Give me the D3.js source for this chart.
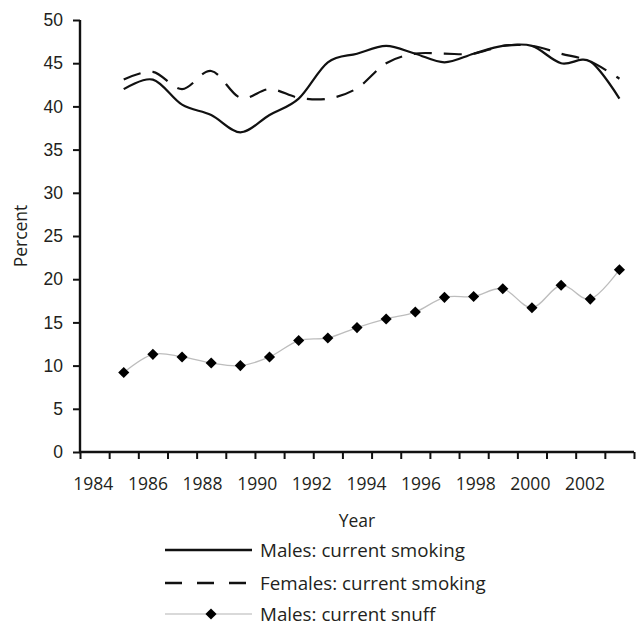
<!DOCTYPE html>
<html>
<head>
<meta charset="utf-8">
<script src="https://cdn.jsdelivr.net/npm/d3@7"></script>
<style>
  body { margin: 0; background: #fff; }
  svg { display: block; font-family: 'Open Sans', sans-serif; }
  .axis text { font-size: 17.5px; fill: #231f20; }
</style>
</head>
<body>
<div id="chart"></div>
<script>
// Survey slots on the category axis (slot 0 is empty)
const slots = d3.range(19);
const pointSlots = [1, 2, 3, 4, 5, 6, 7, 8, 9, 10, 11, 12, 13, 14, 15, 16, 17, 18];

// Percent values
const malesSmoking   = [42.0, 43.1, 40.2, 39.0, 37.0, 39.0, 40.9, 45.1, 46.1, 47.0, 46.1, 45.1, 46.1, 47.0, 47.0, 45.0, 45.2, 40.9];
const femalesSmoking = [43.1, 44.0, 42.0, 44.1, 41.0, 42.0, 41.0, 40.9, 42.1, 45.0, 46.1, 46.1, 46.1, 47.0, 47.0, 46.1, 45.2, 43.2];
const malesSnuff     = [9.2, 11.3, 11.0, 10.3, 10.0, 11.0, 12.9, 13.2, 14.4, 15.4, 16.2, 17.9, 18.0, 18.9, 16.7, 19.3, 17.7, 21.1];

const yearLabels = [1984, 1986, 1988, 1990, 1992, 1994, 1996, 1998, 2000, 2002];
const yTicks = [0, 5, 10, 15, 20, 25, 30, 35, 40, 45, 50];

const legendItems = [
    { name: 'Males: current smoking', type: 'solid' },
    { name: 'Females: current smoking', type: 'dash' },
    { name: 'Males: current snuff', type: 'snuff' }
];

const W = 636, H = 627;
const margin = { top: 20, right: 2, bottom: 175, left: 80 };
const width = W - margin.left - margin.right;
const height = H - margin.top - margin.bottom;

const svg = d3.select('#chart').append('svg')
    .attr('width', W)
    .attr('height', H);

const g = svg.append('g')
    .attr('transform', `translate(${margin.left},${margin.top})`);

// Scales
const x = d3.scaleBand()
    .domain(slots)
    .range([0, width])
    .padding(0);

const xPos = s => x(s) + x.bandwidth() / 2;

// Year labels sit on their own scale, as in the original
const yearX = d3.scaleLinear()
    .domain([1984, 2002])
    .range([width * 0.024, width * 0.9116]);

const y = d3.scaleLinear()
    .domain([0, 50])
    .range([height, 0]);

// Y axis
const yAxisG = g.append('g').attr('class', 'axis')
    .call(d3.axisLeft(y).tickValues(yTicks).tickSize(7).tickPadding(10));

// X axis: tick marks at slot boundaries, no labels
const xAxisG = g.append('g').attr('class', 'axis')
    .attr('transform', `translate(0,${height})`)
    .call(d3.axisBottom(d3.scaleLinear().domain([0, slots.length]).range([0, width]))
        .tickValues(d3.range(slots.length + 1))
        .tickSize(7)
        .tickFormat(''));

g.selectAll('.axis path')
    .attr('stroke', '#111')
    .attr('stroke-width', 2.4);
g.selectAll('.axis line')
    .attr('stroke', '#111')
    .attr('stroke-width', 2);
// Remove the end caps d3 adds on the domain path
yAxisG.select('.domain').attr('d', `M0,${y(50)}V${y(0)}`);
xAxisG.select('.domain').attr('d', `M-1,0H${width}`);

// Year labels
g.append('g').attr('class', 'axis')
    .selectAll('text')
    .data(yearLabels)
    .join('text')
    .attr('x', d => yearX(d))
    .attr('y', height + 38)
    .attr('text-anchor', 'middle')
    .text(d => d);

// Axis titles
svg.append('text')
    .attr('transform', `translate(27,${margin.top + height / 2}) rotate(-90)`)
    .attr('text-anchor', 'middle')
    .style('font-size', '17.5px')
    .attr('fill', '#231f20')
    .text('Percent');

svg.append('text')
    .attr('x', margin.left + width / 2)
    .attr('y', 526.5)
    .attr('text-anchor', 'middle')
    .style('font-size', '17.5px')
    .attr('fill', '#231f20')
    .text('Year');

// Lines
const line = d3.line()
    .x((d, i) => xPos(pointSlots[i]))
    .y(d => y(d))
    .curve(d3.curveCardinal.tension(0));

g.append('path')
    .datum(malesSnuff)
    .attr('d', line)
    .attr('fill', 'none')
    .attr('stroke', '#bdbdbd')
    .attr('stroke-width', 1.3);

g.append('path')
    .datum(femalesSmoking)
    .attr('d', line)
    .attr('fill', 'none')
    .attr('stroke', '#111')
    .attr('stroke-width', 2.2)
    .attr('stroke-dasharray', '18,12');

g.append('path')
    .datum(malesSmoking)
    .attr('d', line)
    .attr('fill', 'none')
    .attr('stroke', '#111')
    .attr('stroke-width', 2.2);

const diamond = d3.symbol(d3.symbolSquare, 62);

g.selectAll('.snuff')
    .data(malesSnuff)
    .join('path')
    .attr('class', 'snuff')
    .attr('d', diamond)
    .attr('transform', (d, i) => `translate(${xPos(pointSlots[i])},${y(d)}) rotate(45)`)
    .attr('fill', '#000');

// Legend
const legend = svg.append('g').attr('transform', 'translate(165,0)');
const legendY = [550, 583, 614];

legendItems.forEach((item, i) => {
    const row = legend.append('g').attr('transform', `translate(0,${legendY[i]})`);
    const ln = row.append('line')
        .attr('x1', 0).attr('x2', 87)
        .attr('y1', 0).attr('y2', 0);
    if (item.type === 'snuff') {
        ln.attr('stroke', '#cccccc').attr('stroke-width', 1.5);
        row.append('path')
            .attr('d', diamond)
            .attr('transform', 'translate(46,0) rotate(45)')
            .attr('fill', '#000');
    } else {
        ln.attr('stroke', '#111').attr('stroke-width', 2.4);
        if (item.type === 'dash') ln.attr('stroke-dasharray', '17,15');
    }
    row.append('text')
        .attr('x', 95)
        .attr('y', 6.5)
        .style('font-size', '18.8px')
        .attr('fill', '#231f20')
        .text(item.name);
});
</script>
</body>
</html>
